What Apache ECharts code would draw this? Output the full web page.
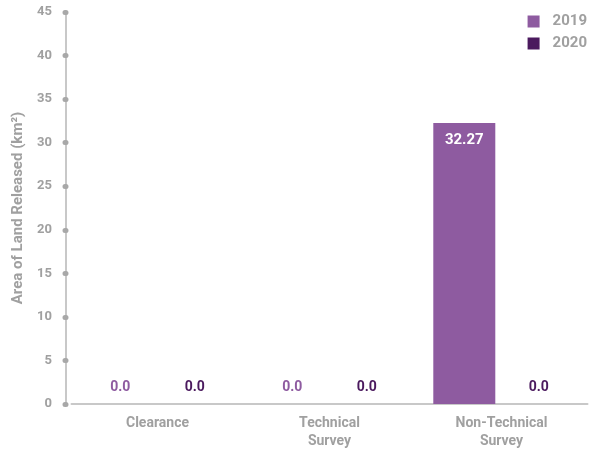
<!DOCTYPE html>
<html>
<head>
<meta charset="utf-8">
<style>
  html, body { margin: 0; padding: 0; background: #fff; }
  #chart { width: 592px; height: 450px; }
</style>
<script src="https://cdn.jsdelivr.net/npm/echarts@6/dist/echarts.min.js"></script>
</head>
<body>
<div id="chart"></div>
<script>
// Land released by method, 2019 vs 2020 (km²)
const categories = ['Clearance', 'Technical\nSurvey', 'Non-Technical\nSurvey'];
const values2019 = [0, 0, 32.27];
const values2020 = [0, 0, 0];
const seriesNames = ['2019', '2020'];
const seriesColors = ['#8e5ba0', '#4b1a5e'];

const FONT = 'Roboto';
const GREY = '#a0a0a0';

function barData(values, color) {
  return values.map(v => ({
    value: v,
    label: v > 0
      ? { position: 'insideTop', distance: 10, color: '#ffffff', fontSize: 15 }
      : { position: 'top', distance: 10, color: color }
  }));
}

const valueLabel = {
  show: true,
  formatter: p => p.value.toFixed(p.value > 0 ? 2 : 1),
  fontWeight: 'bold', fontSize: 14, fontFamily: FONT
};

const chart = echarts.init(document.getElementById('chart'));
chart.setOption({
  animation: false,
  textStyle: { fontFamily: FONT },
  grid: { left: 71.5, right: 4.5, top: 12, bottom: 44, containLabel: false },
  legend: {
    orient: 'vertical',
    right: 0,
    top: 9,
    itemWidth: 12,
    itemHeight: 12,
    itemGap: 7,
    icon: 'rect',
    textStyle: {
      color: GREY, fontWeight: 'bold', fontSize: 15, fontFamily: FONT,
      padding: [0, 0, 0, 8]
    },
    data: seriesNames
  },
  xAxis: {
    type: 'category',
    data: categories,
    axisLine: { lineStyle: { color: '#c8c8c8', width: 2 } },
    axisTick: { show: false },
    axisLabel: {
      color: GREY, fontWeight: 'bold', fontSize: 14, fontFamily: FONT,
      margin: 10, lineHeight: 18
    }
  },
  yAxis: {
    type: 'value',
    min: 0,
    max: 45,
    interval: 5,
    offset: 5.5,
    name: 'Area of Land Released (km²)',
    nameLocation: 'middle',
    nameGap: 36,
    nameTextStyle: { color: GREY, fontWeight: 'bold', fontSize: 15, fontFamily: FONT },
    axisLine: { show: true, lineStyle: { color: '#c8c8c8', width: 2 } },
    axisTick: { show: true, length: 1, lineStyle: { color: '#a8a8a8', width: 5, cap: 'round' } },
    axisLabel: { color: GREY, fontWeight: 'bold', fontSize: 13, fontFamily: FONT, margin: 14 },
    splitLine: { show: false }
  },
  series: [
    {
      name: seriesNames[0],
      type: 'bar',
      data: barData(values2019, seriesColors[0]),
      itemStyle: { color: seriesColors[0] },
      barWidth: 62,
      barGap: '20%',
      label: valueLabel
    },
    {
      name: seriesNames[1],
      type: 'bar',
      data: barData(values2020, seriesColors[1]),
      itemStyle: { color: seriesColors[1] },
      barWidth: 62,
      barGap: '20%',
      label: valueLabel
    }
  ]
});
</script>
</body>
</html>
